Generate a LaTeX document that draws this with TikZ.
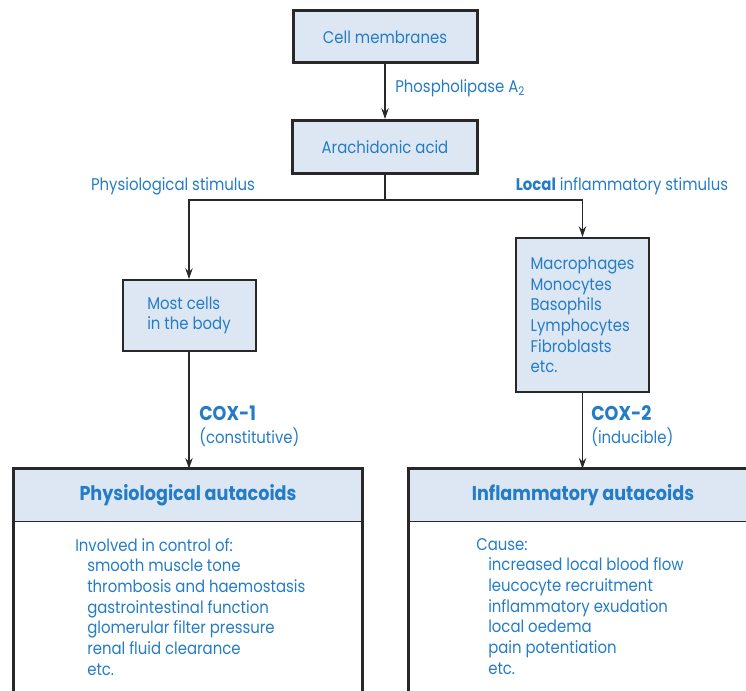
\documentclass[tikz,border=0pt]{standalone}
\usepackage{fontspec}
\setmainfont{Poppins}[FakeStretch=0.88]
\usetikzlibrary{arrows.meta}
\definecolor{tblue}{RGB}{36,124,198}
\definecolor{bfill}{RGB}{221,231,244}
\definecolor{bline}{RGB}{40,40,40}
\begin{document}
\begin{tikzpicture}[x=0.75pt,y=-0.75pt,
  font=\fontsize{12.7}{15.5}\selectfont,
  box/.style={draw=bline, fill=bfill, text=tblue, inner sep=0pt},
  thickbox/.style={box, line width=2.25pt},
  thinbox/.style={box, line width=1.5pt},
  arr/.style={draw=bline, line width=1.2pt, -{Stealth[length=8pt,width=5.5pt]}},
  conn/.style={draw=bline, line width=1.2pt},
  lbl/.style={text=tblue, inner sep=0pt},
  boldlbl/.style={lbl, font=\fontsize{15}{15}\selectfont\bfseries},
  hdr/.style={fill=bfill, text=tblue, inner sep=0pt, font=\fontsize{15}{15}\selectfont\bfseries,
              minimum width=348*0.75pt, minimum height=52*0.75pt},
  bigline/.style={draw=bline, line width=2.4pt},
  sepline/.style={draw=bline, line width=1.1pt}]
\useasboundingbox (0,0) rectangle (746,691);
\clip (0,0) rectangle (746,691);
\coordinate (bot) at (0,700);
% top boxes
\node[thickbox, minimum width=184*0.75pt, minimum height=52*0.75pt] (cm) at (385,37) {Cell membranes};
\node[thickbox, minimum width=185*0.75pt, minimum height=53*0.75pt] (aa) at (385,147) {Arachidonic acid};
\node[thinbox, minimum width=133*0.75pt, minimum height=71*0.75pt, align=left] (mc) at (189,315.5) {Most cells\\in the body};
\node[thinbox, minimum width=133*0.75pt, minimum height=154*0.75pt, align=left] (mp) at (582.5,315)
  {Macrophages\\Monocytes\\Basophils\\Lymphocytes\\Fibroblasts\\etc.};
% big boxes
\node[hdr] (pa) at (188,495) {Physiological autacoids};
\node[hdr] (ia) at (583,495) {Inflammatory autacoids};
\draw[bigline] (pa.west |- bot) -- (pa.north west) -- (pa.north east) -- (pa.east |- bot);
\draw[sepline] (pa.south west) -- (pa.south east);
\draw[bigline] (ia.west |- bot) -- (ia.north west) -- (ia.north east) -- (ia.east |- bot);
\draw[sepline] (ia.south west) -- (ia.south east);
% connectors
\coordinate (j) at (385,200);
\draw[arr] (cm) -- (aa);
\draw[conn] (aa) -- (j);
\draw[arr] (j) -| (mc.north);
\draw[arr] (j) -| (mp.north);
\draw[arr] (mc.south) -- (mc.south |- pa.north);
\draw[arr] (mp.south) -- (mp.south |- ia.north);
% labels
\node[lbl, anchor=west] (pl) at (395,88) {Phospholipase A\textsubscript{2}};
\node[lbl] (ps) at (173,186) {Physiological stimulus};
\node[lbl] (ls) at (622,186) {\textbf{Local} inflammatory stimulus};
\node[boldlbl, anchor=west] (c1) at (199,413) {COX-1};
\node[lbl, anchor=west] (c1b) at (199,437) {(constitutive)};
\node[boldlbl, anchor=west] (c2) at (591,413) {COX-2};
\node[lbl, anchor=west] (c2b) at (591,437) {(inducible)};
% body texts
\node[lbl, anchor=north west, align=left] (pb) at (75,538)
  {Involved in control of:\\
   \hspace*{9pt}smooth muscle tone\\
   \hspace*{9pt}thrombosis and haemostasis\\
   \hspace*{9pt}gastrointestinal function\\
   \hspace*{9pt}glomerular filter pressure\\
   \hspace*{9pt}renal fluid clearance\\
   \hspace*{9pt}etc.};
\node[lbl, anchor=north west, align=left] (ib) at (476,538)
  {Cause:\\
   \hspace*{9pt}increased local blood flow\\
   \hspace*{9pt}leucocyte recruitment\\
   \hspace*{9pt}inflammatory exudation\\
   \hspace*{9pt}local oedema\\
   \hspace*{9pt}pain potentiation\\
   \hspace*{9pt}etc.};
\end{tikzpicture}
\end{document}
